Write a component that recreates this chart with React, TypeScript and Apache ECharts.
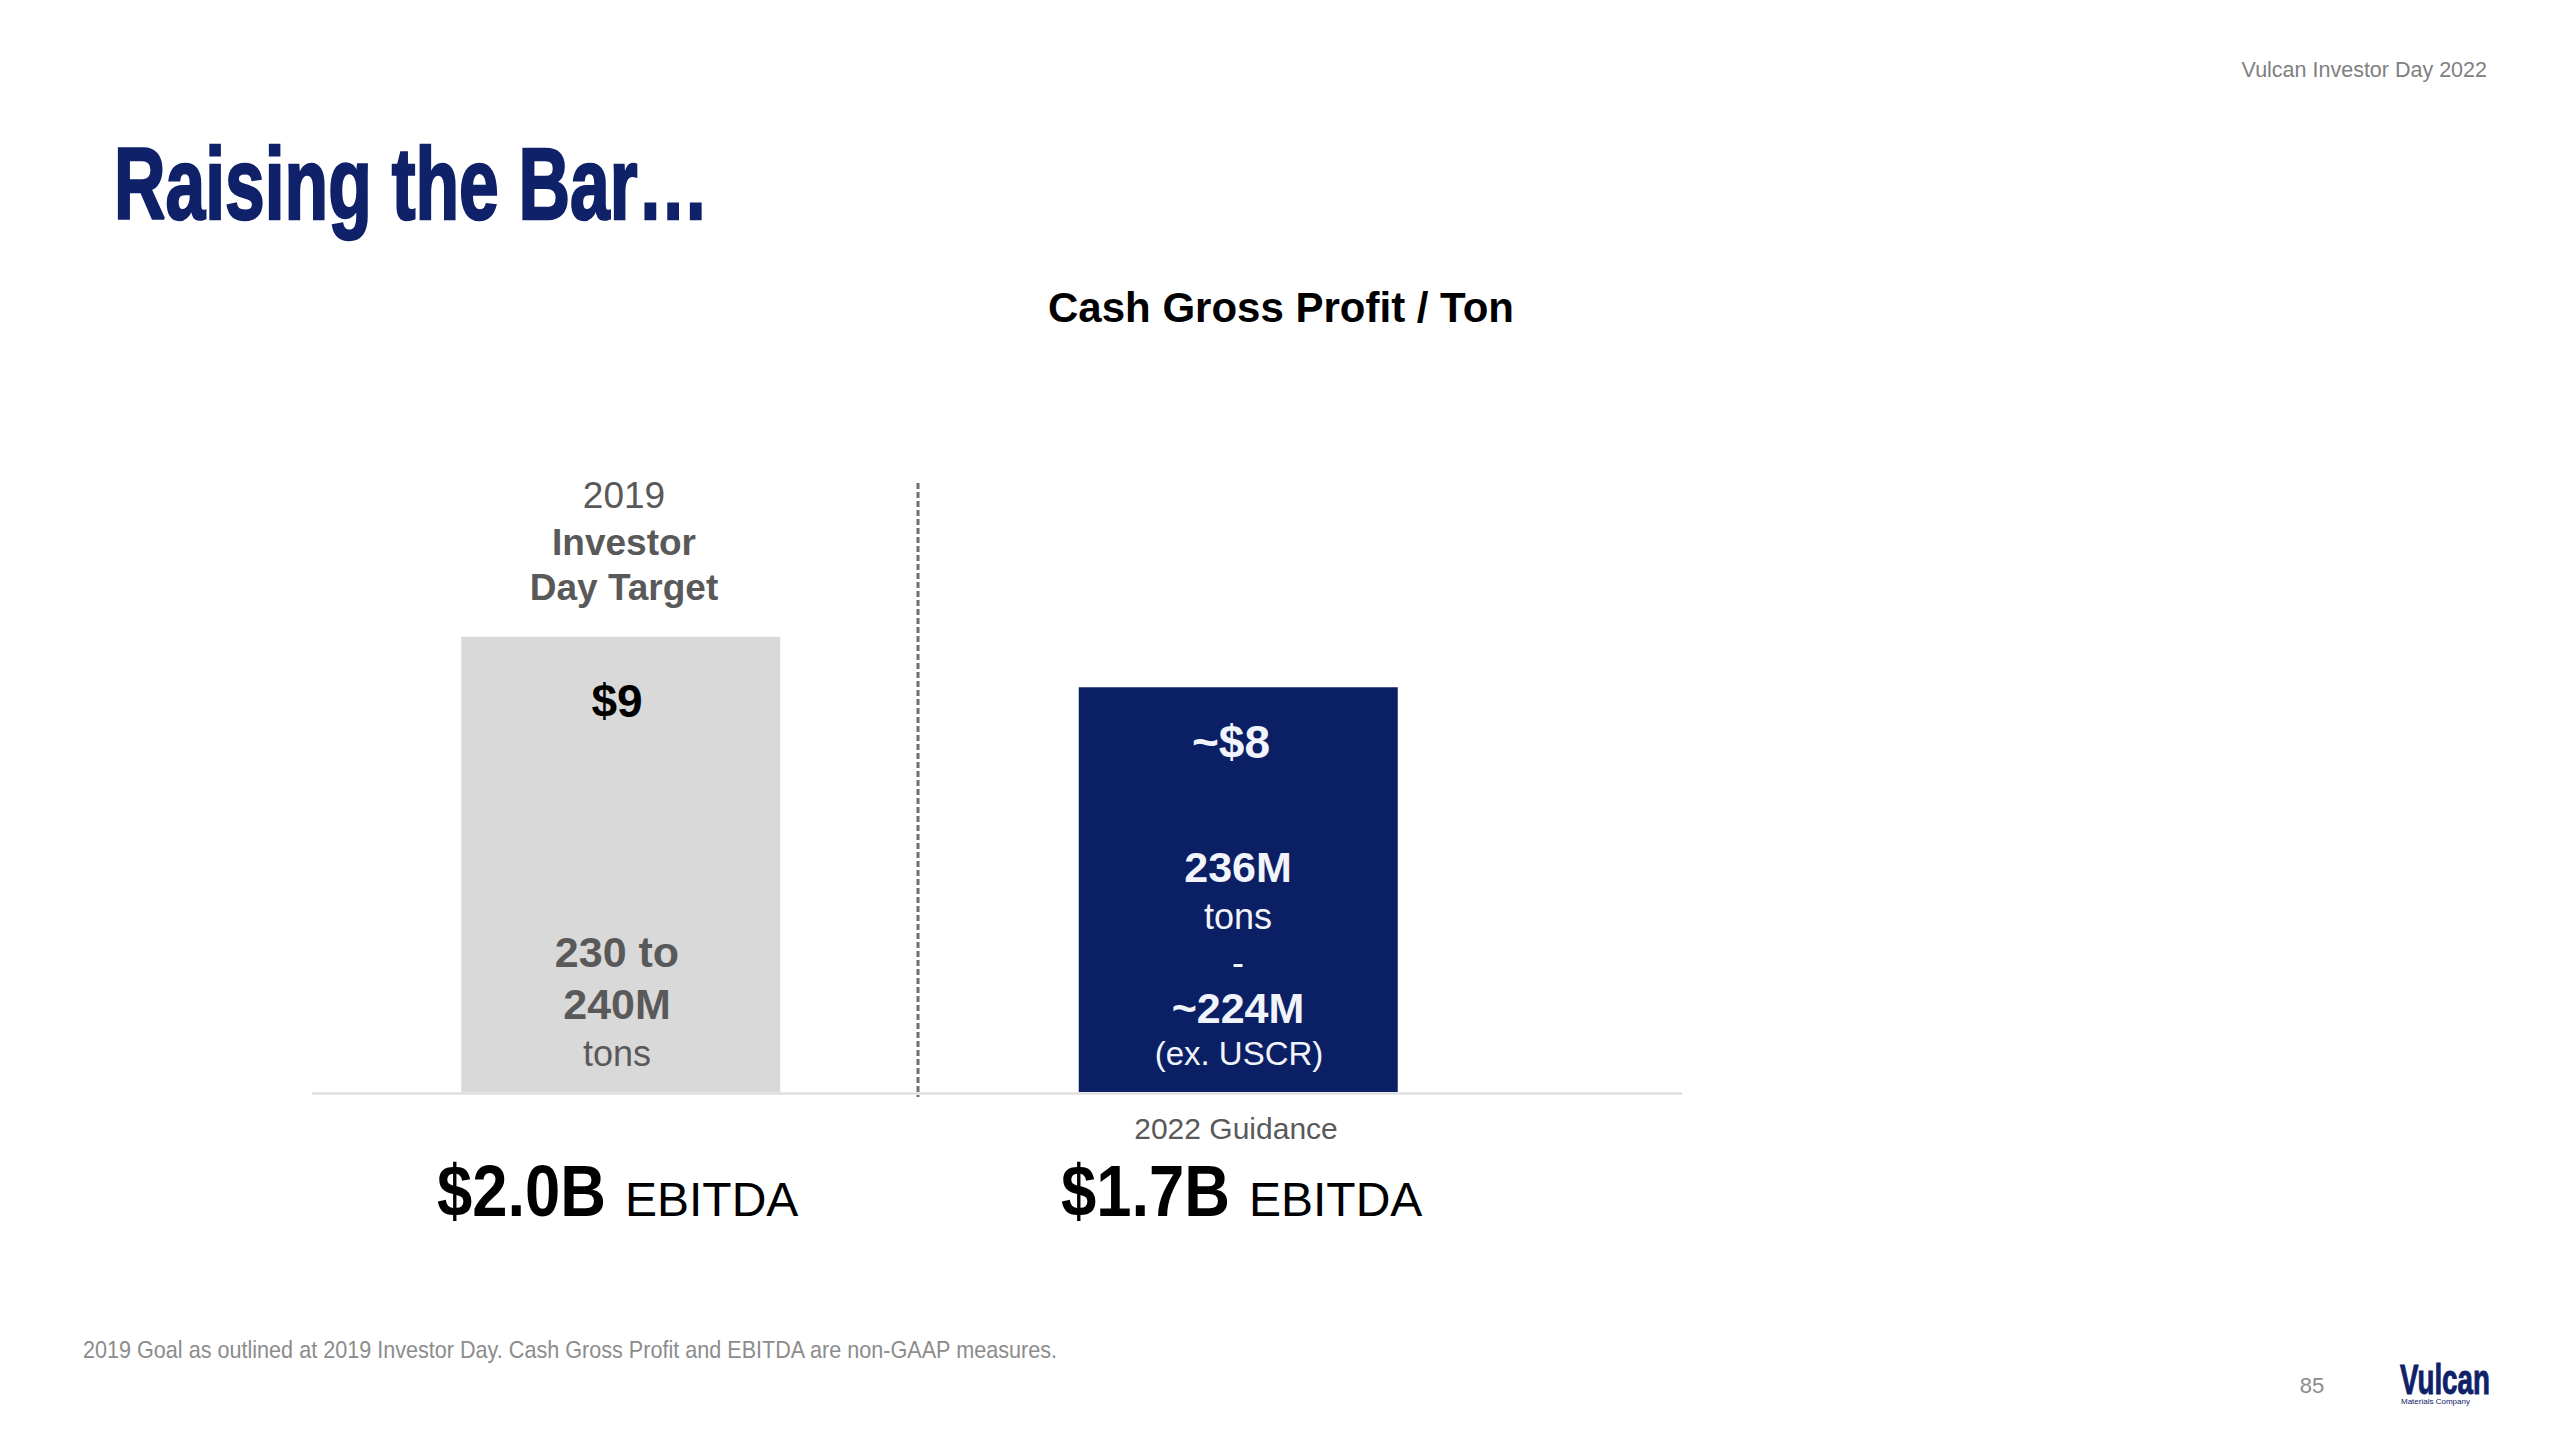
import React, { useEffect, useRef } from "react";
import * as echarts from "echarts";

const categories = ["2019 Investor Day Target", "2022 Guidance"];
const values = [9, 8];
const barColors = ["#d9d9d9", "#0b1f65"];
const aboveBar2019 = ["2019", "Investor", "Day Target"];
const bar2019Lines = ["230 to", "240M", "tons"];
const bar2022Lines = ["236M", "tons", "-", "~224M", "(ex. USCR)"];
const topLabels = ["$9", "~$8"];
const ebitdaValues = ["$2.0B", "$1.7B"];

const NAVY = "#0f2169";
const FONT = "'Liberation Sans', Arial, Helvetica, sans-serif";

function txt(x: number, y: number, text: string, size: number, color: string, bold = false, align = "center", scaleX = 1, strokeW = 0) {
  const style: any = {
    text,
    fontSize: size,
    fontWeight: bold ? "bold" : "normal",
    fontFamily: FONT,
    fill: color,
    align,
    verticalAlign: "middle",
  };
  if (strokeW > 0) {
    style.stroke = color;
    style.lineWidth = strokeW;
  }
  return { type: "text", x, y, z: 100, scaleX, silent: true, style };
}

export default function App() {
  const ref = useRef<HTMLDivElement>(null);
  useEffect(() => {
    document.body.style.margin = "0";
    if (!ref.current) return;
    const chart = echarts.init(ref.current, null, { renderer: "svg" });
    const graphic: any[] = [
      txt(114, 184, "Raising the Bar…", 102, NAVY, true, "left", 0.7, 2.5),
      txt(2487, 70, "Vulcan Investor Day 2022", 21.5, "#808080", false, "right"),
      txt(1281, 307, "Cash Gross Profit / Ton", 42, "#000000", true),
      txt(624, 495, aboveBar2019[0], 37, "#595959", false),
      txt(624, 542, aboveBar2019[1], 37, "#595959", true),
      txt(624, 587, aboveBar2019[2], 37, "#595959", true),
      txt(617, 701, topLabels[0], 46, "#000000", true),
      txt(617, 952, bar2019Lines[0], 43, "#595959", true),
      txt(617, 1004, bar2019Lines[1], 43, "#595959", true),
      txt(617, 1053, bar2019Lines[2], 36, "#595959", false),
      txt(1231, 742, topLabels[1], 46, "#f2f4fb", true),
      txt(1238, 867, bar2022Lines[0], 43, "#f2f4fb", true),
      txt(1238, 916, bar2022Lines[1], 36, "#f2f4fb", false),
      txt(1238, 962, bar2022Lines[2], 36, "#f2f4fb", false),
      txt(1238, 1008, bar2022Lines[3], 43, "#f2f4fb", true),
      txt(1239, 1053, bar2022Lines[4], 33, "#f2f4fb", false),
      txt(1236, 1128, categories[1], 30, "#595959", false),
      txt(437, 1191, ebitdaValues[0], 72, "#000000", true, "left", 0.88),
      txt(625, 1199, "EBITDA", 48, "#000000", false, "left"),
      txt(1061, 1191, ebitdaValues[1], 72, "#000000", true, "left", 0.88),
      txt(1249, 1199, "EBITDA", 48, "#000000", false, "left"),
      txt(83, 1350, "2019 Goal as outlined at 2019 Investor Day. Cash Gross Profit and EBITDA are non-GAAP measures.", 24, "#8c8c8c", false, "left", 0.9),
      txt(2312, 1385, "85", 22, "#8c8c8c", false),
      txt(2400, 1380, "Vulcan", 42, NAVY, true, "left", 0.66, 1),
      txt(2401, 1401, "Materials Company", 8, NAVY, false, "left"),
      {
        type: "line",
        silent: true,
        z: 50,
        shape: { x1: 312, y1: 1093.5, x2: 1682, y2: 1093.5 },
        style: { stroke: "#d9d9d9", lineWidth: 2 },
      },
      {
        type: "line",
        silent: true,
        z: 50,
        shape: { x1: 918, y1: 483, x2: 918, y2: 1097 },
        style: { stroke: "#6f6f6f", lineWidth: 3, lineDash: [6, 3] },
      },
    ];
    chart.setOption({
      animation: false,
      backgroundColor: "#ffffff",
      grid: { left: 312, right: 1013, top: 485, bottom: 348, containLabel: false },
      xAxis: {
        type: "category",
        data: categories,
        axisLine: { show: false },
        axisTick: { show: false },
        axisLabel: { show: false },
      },
      yAxis: {
        type: "value",
        min: 0,
        max: 12,
        show: false,
        splitLine: { show: false },
      },
      series: [
        {
          type: "bar",
          barWidth: 319,
          data: values.map((v, i) => ({ value: v, itemStyle: { color: barColors[i] } })),
          label: { show: false },
        },
      ],
      graphic,
    });
    return () => chart.dispose();
  }, []);
  return <div ref={ref} style={{ width: 2560, height: 1440 }} />;
}
